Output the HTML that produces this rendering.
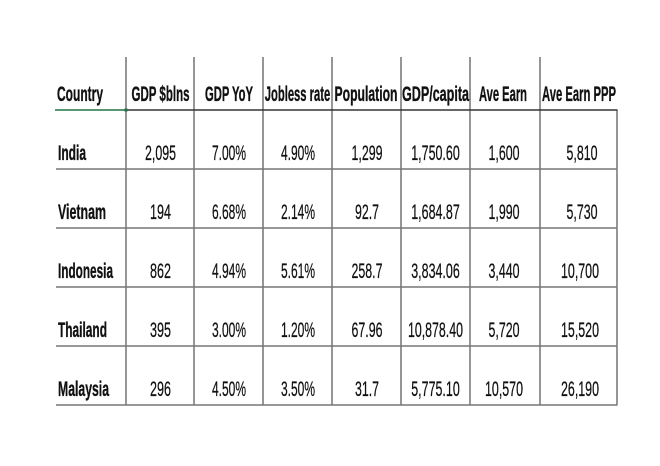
<!DOCTYPE html>
<html>
<head>
<meta charset="utf-8">
<style>
  html,body{margin:0;padding:0;background:#fff;}
  svg{display:block;}
  text{font-family:"Liberation Sans",Arial,sans-serif;font-size:21px;fill:#111;stroke:#111;stroke-width:0.25;}
  .b{font-weight:bold;stroke-width:0.35;}
</style>
</head>
<body>
<svg width="660" height="466" viewBox="0 0 660 466" xmlns="http://www.w3.org/2000/svg">
  <rect width="660" height="466" fill="#fff"/>
  <!-- vertical lines -->
  <g stroke="#5e5e5e" stroke-width="1.3">
    <line x1="126" y1="57" x2="126" y2="405"/>
    <line x1="194" y1="57" x2="194" y2="405"/>
    <line x1="263" y1="57" x2="263" y2="405"/>
    <line x1="332" y1="57" x2="332" y2="405"/>
    <line x1="401" y1="57" x2="401" y2="405"/>
    <line x1="470" y1="57" x2="470" y2="405"/>
    <line x1="540" y1="57" x2="540" y2="405"/>
    <line x1="617" y1="110" x2="617" y2="405"/>
  </g>
  <!-- horizontal lines -->
  <line x1="126" y1="110" x2="617.5" y2="110" stroke="#333" stroke-width="1.4"/>
  <g stroke="#777" stroke-width="1.5">
    <line x1="56" y1="169" x2="617.5" y2="169"/>
    <line x1="56" y1="228" x2="617.5" y2="228"/>
    <line x1="56" y1="287" x2="617.5" y2="287"/>
    <line x1="56" y1="346" x2="617.5" y2="346"/>
    <line x1="56" y1="405" x2="617.5" y2="405"/>
  </g>
  <!-- selected cell green underline -->
  <line x1="55" y1="110" x2="126" y2="110" stroke="#217346" stroke-width="1.6"/>
  <rect x="124.5" y="108.5" width="3" height="3" fill="#217346"/>

  <!-- header -->
  <text class="b" x="57" y="101" textLength="46" lengthAdjust="spacingAndGlyphs">Country</text>
  <text class="b" x="160.5" y="101" text-anchor="middle" textLength="58" lengthAdjust="spacingAndGlyphs">GDP $blns</text>
  <text class="b" x="229" y="101" text-anchor="middle" textLength="48" lengthAdjust="spacingAndGlyphs">GDP YoY</text>
  <text class="b" x="297.5" y="101" text-anchor="middle" textLength="65.5" lengthAdjust="spacingAndGlyphs">Jobless rate</text>
  <text class="b" x="366" y="101" text-anchor="middle" textLength="63" lengthAdjust="spacingAndGlyphs">Population</text>
  <text class="b" x="435.5" y="101" text-anchor="middle" textLength="67" lengthAdjust="spacingAndGlyphs">GDP/capita</text>
  <text class="b" x="503" y="101" text-anchor="middle" textLength="48" lengthAdjust="spacingAndGlyphs">Ave Earn</text>
  <text class="b" x="579" y="101" text-anchor="middle" textLength="74" lengthAdjust="spacingAndGlyphs">Ave Earn PPP</text>

  <!-- country names -->
  <text class="b" x="58" y="160" textLength="28" lengthAdjust="spacingAndGlyphs">India</text>
  <text class="b" x="58" y="219" textLength="48" lengthAdjust="spacingAndGlyphs">Vietnam</text>
  <text class="b" x="58" y="278" textLength="55" lengthAdjust="spacingAndGlyphs">Indonesia</text>
  <text class="b" x="58" y="337" textLength="49" lengthAdjust="spacingAndGlyphs">Thailand</text>
  <text class="b" x="58" y="396" textLength="51" lengthAdjust="spacingAndGlyphs">Malaysia</text>

  <!-- India -->
  <text x="160.5" y="160" text-anchor="middle" textLength="31" lengthAdjust="spacingAndGlyphs">2,095</text>
  <text x="229" y="160" text-anchor="middle" textLength="34" lengthAdjust="spacingAndGlyphs">7.00%</text>
  <text x="298" y="160" text-anchor="middle" textLength="34" lengthAdjust="spacingAndGlyphs">4.90%</text>
  <text x="367" y="160" text-anchor="middle" textLength="31" lengthAdjust="spacingAndGlyphs">1,299</text>
  <text x="435.5" y="160" text-anchor="middle" textLength="48.5" lengthAdjust="spacingAndGlyphs">1,750.60</text>
  <text x="504" y="160" text-anchor="middle" textLength="31" lengthAdjust="spacingAndGlyphs">1,600</text>
  <text x="582" y="160" text-anchor="middle" textLength="31" lengthAdjust="spacingAndGlyphs">5,810</text>

  <!-- Vietnam -->
  <text x="160.5" y="219" text-anchor="middle" textLength="21" lengthAdjust="spacingAndGlyphs">194</text>
  <text x="229" y="219" text-anchor="middle" textLength="34" lengthAdjust="spacingAndGlyphs">6.68%</text>
  <text x="298" y="219" text-anchor="middle" textLength="34" lengthAdjust="spacingAndGlyphs">2.14%</text>
  <text x="367" y="219" text-anchor="middle" textLength="24" lengthAdjust="spacingAndGlyphs">92.7</text>
  <text x="435.5" y="219" text-anchor="middle" textLength="48.5" lengthAdjust="spacingAndGlyphs">1,684.87</text>
  <text x="504" y="219" text-anchor="middle" textLength="31" lengthAdjust="spacingAndGlyphs">1,990</text>
  <text x="582" y="219" text-anchor="middle" textLength="31" lengthAdjust="spacingAndGlyphs">5,730</text>

  <!-- Indonesia -->
  <text x="160.5" y="278" text-anchor="middle" textLength="21" lengthAdjust="spacingAndGlyphs">862</text>
  <text x="229" y="278" text-anchor="middle" textLength="34" lengthAdjust="spacingAndGlyphs">4.94%</text>
  <text x="298" y="278" text-anchor="middle" textLength="34" lengthAdjust="spacingAndGlyphs">5.61%</text>
  <text x="367" y="278" text-anchor="middle" textLength="31" lengthAdjust="spacingAndGlyphs">258.7</text>
  <text x="435.5" y="278" text-anchor="middle" textLength="48.5" lengthAdjust="spacingAndGlyphs">3,834.06</text>
  <text x="504" y="278" text-anchor="middle" textLength="31" lengthAdjust="spacingAndGlyphs">3,440</text>
  <text x="580" y="278" text-anchor="middle" textLength="38" lengthAdjust="spacingAndGlyphs">10,700</text>

  <!-- Thailand -->
  <text x="160.5" y="337" text-anchor="middle" textLength="21" lengthAdjust="spacingAndGlyphs">395</text>
  <text x="229" y="337" text-anchor="middle" textLength="34" lengthAdjust="spacingAndGlyphs">3.00%</text>
  <text x="298" y="337" text-anchor="middle" textLength="34" lengthAdjust="spacingAndGlyphs">1.20%</text>
  <text x="367" y="337" text-anchor="middle" textLength="31" lengthAdjust="spacingAndGlyphs">67.96</text>
  <text x="435.5" y="337" text-anchor="middle" textLength="55" lengthAdjust="spacingAndGlyphs">10,878.40</text>
  <text x="504" y="337" text-anchor="middle" textLength="31" lengthAdjust="spacingAndGlyphs">5,720</text>
  <text x="580" y="337" text-anchor="middle" textLength="38" lengthAdjust="spacingAndGlyphs">15,520</text>

  <!-- Malaysia -->
  <text x="160.5" y="396" text-anchor="middle" textLength="21" lengthAdjust="spacingAndGlyphs">296</text>
  <text x="229" y="396" text-anchor="middle" textLength="34" lengthAdjust="spacingAndGlyphs">4.50%</text>
  <text x="298" y="396" text-anchor="middle" textLength="34" lengthAdjust="spacingAndGlyphs">3.50%</text>
  <text x="367" y="396" text-anchor="middle" textLength="24" lengthAdjust="spacingAndGlyphs">31.7</text>
  <text x="435.5" y="396" text-anchor="middle" textLength="48.5" lengthAdjust="spacingAndGlyphs">5,775.10</text>
  <text x="504" y="396" text-anchor="middle" textLength="38" lengthAdjust="spacingAndGlyphs">10,570</text>
  <text x="580" y="396" text-anchor="middle" textLength="38" lengthAdjust="spacingAndGlyphs">26,190</text>
</svg>
</body>
</html>
